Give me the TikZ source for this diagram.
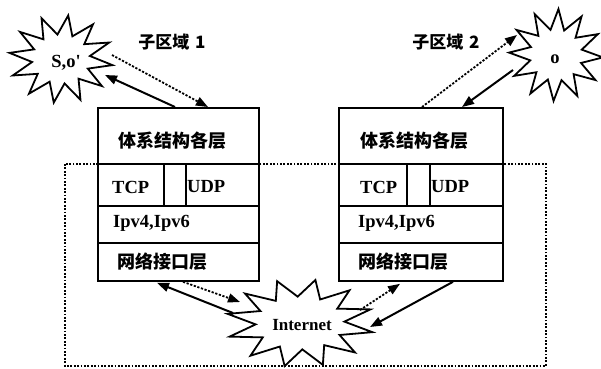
\documentclass[tikz,border=0pt]{standalone}
\usepackage{fontspec}
\setmainfont{Liberation Serif}
\newfontfamily\plainserif{Liberation Serif}
\newfontfamily\cjk{Noto Sans CJK SC}
\usetikzlibrary{arrows.meta,calc}
\newcommand\burst[7]{% name cx cy rx ry inner rot
  \draw[burstline] plot[variable=\t, samples at={0,15,...,345}]
   ({#2+#4*(mod(\t,30)==0?1:#6)*cos(\t+#7)}, {#3+#5*(mod(\t,30)==0?1:#6)*sin(\t+#7)}) -- cycle;
  \coordinate (#1) at (#2,#3);}
\tikzset{
  cell/.style={draw, line width=1.8pt, fill=white, inner sep=0pt, anchor=north west},
  burstline/.style={draw, line width=1.8pt, fill=white, line join=miter},
  txt/.style={inner sep=0pt, font=\fontsize{18.5}{20}\selectfont\bfseries},
  ctxt/.style={inner sep=0pt, font=\fontsize{18}{20}\selectfont\cjk\bfseries},
  solidarr/.style={line width=2pt, -{Triangle[length=12pt,width=9pt]}},
  dotarr/.style={line width=1.8pt, dash pattern=on 2.2pt off 1.6pt, -{Triangle[length=12pt,width=9pt]}},
  region/.style={line width=1.6pt, dash pattern=on 1.8pt off 1.6pt}
}
\begin{document}
\begin{tikzpicture}[x=1pt,y=-1pt]
\useasboundingbox (0,0) rectangle (601,368);
% dotted region
\draw[region] (65,164) rectangle (546,366);
% left stack
\node[cell, minimum width=161pt, minimum height=56pt] (l1) at (97,107) {};
\node[cell, minimum width=66pt, minimum height=42pt] (l2a) at (97,163) {};
\node[cell, minimum width=22pt, minimum height=42pt] (l2b) at (163,163) {};
\node[cell, minimum width=73pt, minimum height=42pt] (l2c) at (185,163) {};
\node[cell, minimum width=161pt, minimum height=37pt] (l3) at (97,205) {};
\node[cell, minimum width=161pt, minimum height=38pt] (l4) at (97,242) {};
% right stack
\node[cell, minimum width=164pt, minimum height=56pt] (r1) at (338,107) {};
\node[cell, minimum width=68pt, minimum height=42pt] (r2a) at (338,163) {};
\node[cell, minimum width=23pt, minimum height=42pt] (r2b) at (406,163) {};
\node[cell, minimum width=73pt, minimum height=42pt] (r2c) at (429,163) {};
\node[cell, minimum width=164pt, minimum height=37pt] (r3) at (338,205) {};
\node[cell, minimum width=164pt, minimum height=38pt] (r4) at (338,242) {};
% bursts
\burst{sl}{61}{59}{52}{44}{0.56}{8}
\burst{sr}{556}{55}{47}{46}{0.56}{3}
\burst{si}{300}{323}{74}{44}{0.6}{12}
% texts
\node[txt] (slt) at (66,63) {\plainserif\bfseries S,o'};
\node[txt] (srt) at (555,59) {o};
\node[txt, font=\fontsize{17}{19}\selectfont\bfseries] (sit) at (302,325) {Internet};
\node[ctxt, font=\fontsize{17}{19}\selectfont\cjk\bfseries] (lab1) at (172,42) {子区域\,\,\textbf{1}};
\node[ctxt, font=\fontsize{17}{19}\selectfont\cjk\bfseries] (lab2) at (446,42) {子区域\,\,\textbf{2}};
\node[ctxt, anchor=west] (l1t) at (118,141) {体系结构各层};
\node[txt, anchor=west] (l2at) at (112,187) {TCP};
\node[txt, anchor=west] (l2ct) at (187,187) {UDP};
\node[txt, anchor=west] (l3t) at (113,223) {Ipv4,Ipv6};
\node[ctxt, anchor=west] (l4t) at (117,262) {网络接口层};
\node[ctxt, anchor=west] (r1t) at (360,141) {体系结构各层};
\node[txt, anchor=west] (r2at) at (360,187) {TCP};
\node[txt, anchor=west] (r2ct) at (431,187) {UDP};
\node[txt, anchor=west] (r3t) at (358,223) {Ipv4,Ipv6};
\node[ctxt, anchor=west] (r4t) at (358,262) {网络接口层};
% arrow end coordinates on bursts
\coordinate (slA) at (105,75);
\coordinate (slB) at (112,55);
\coordinate (srA) at (517,35);
\coordinate (srB) at (513,70);
\coordinate (siA) at (233,313);
\coordinate (siB) at (240,302);
\coordinate (siC) at (360,310);
\coordinate (siD) at (370,327);
% arrows
\draw[solidarr] ([xshift=78pt]l1.north west) -- (slA);
\draw[dotarr] (slB) -- ([xshift=111pt]l1.north west);
\draw[dotarr] ([xshift=84pt]r1.north west) -- (srA);
\draw[solidarr] (srB) -- ([xshift=124pt]r1.north west);
\draw[solidarr] (siA) -- ([xshift=60pt,yshift=-1pt]l4.south west);
\draw[dotarr] ([xshift=86pt]l4.south west) -- (siB);
\draw[dotarr] (siC) -- ([xshift=62pt,yshift=-2pt]r4.south west);
\draw[solidarr] ([xshift=115pt]r4.south west) -- (siD);
\end{tikzpicture}
\end{document}
